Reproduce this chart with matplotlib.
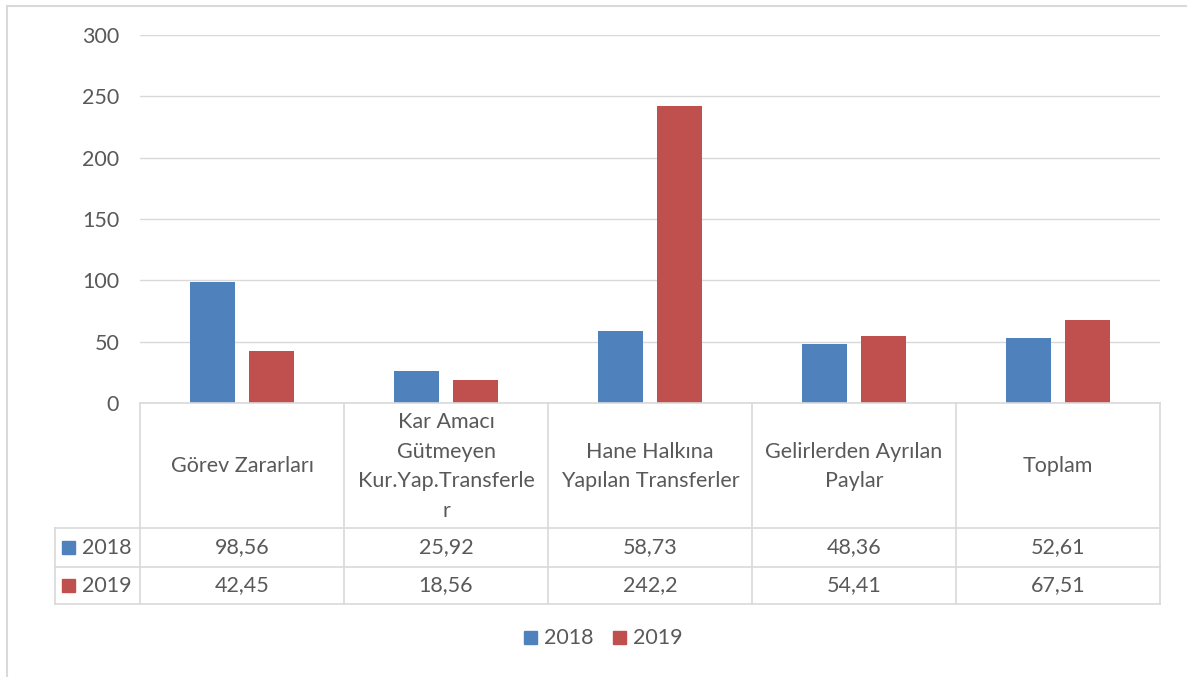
import matplotlib.pyplot as plt
import numpy as np
from matplotlib.lines import Line2D
from matplotlib.patches import Rectangle

categories = ["Görev Zararları",
              "Kar Amacı\nGütmeyen\nKur.Yap.Transferle\nr",
              "Hane Halkına\nYapılan Transferler",
              "Gelirlerden Ayrılan\nPaylar",
              "Toplam"]
series_names = ["2018", "2019"]
values_2018 = [98.56, 25.92, 58.73, 48.36, 52.61]
values_2019 = [42.45, 18.56, 242.2, 54.41, 67.51]
labels_2018 = ["98,56", "25,92", "58,73", "48,36", "52,61"]
labels_2019 = ["42,45", "18,56", "242,2", "54,41", "67,51"]
yticks = [0, 50, 100, 150, 200, 250, 300]

blue = "#4F81BD"
red = "#C0504D"
grid_c = "#D9D9D9"
text_c = "#595959"
fs = 15.5

plt.rcParams['font.family'] = ['Lato', 'DejaVu Sans']

W, H = 1187, 677
fig = plt.figure(figsize=(W / 100, H / 100), dpi=100)

def fx(px):
    return px / W

def fy(py):
    return 1 - py / H

# plot area in pixels
left, right, top, bottom = 140, 1160, 35, 403
ax = fig.add_axes([fx(left), fy(bottom), fx(right) - fx(left), fy(top) - fy(bottom)])

x = np.arange(len(categories))
bw = 0.22
ax.bar(x - 0.143, values_2018, bw, color=blue)
ax.bar(x + 0.143, values_2019, bw, color=red)

ax.set_xlim(-0.5, len(categories) - 0.5)
ax.set_ylim(0, 300)
ax.set_yticks(yticks)
ax.set_xticks([])
ax.yaxis.grid(True, color=grid_c, linewidth=1)
ax.set_axisbelow(True)
for s in ax.spines.values():
    s.set_visible(False)
ax.tick_params(axis='y', length=0, pad=15, labelsize=fs, labelcolor=text_c)

# data table below the plot
def hline(x0, x1, y):
    fig.add_artist(Line2D([fx(x0), fx(x1)], [fy(y), fy(y)], color=grid_c, lw=1.2))

def vline(xp, y0, y1):
    fig.add_artist(Line2D([fx(xp), fx(xp)], [fy(y0), fy(y1)], color=grid_c, lw=1.2))

head_bot, row1_bot, row2_bot = 528, 567, 604
lab_left = 55
col_w = (right - left) / len(categories)

hline(left, right, bottom)
hline(lab_left, right, head_bot)
hline(lab_left, right, row1_bot)
hline(lab_left, right, row2_bot)
for i in range(len(categories) + 1):
    vline(left + i * col_w, bottom, row2_bot)
vline(lab_left, head_bot, row2_bot)

for i, cat in enumerate(categories):
    cx = fx(left + (i + 0.5) * col_w)
    fig.text(cx, fy((bottom + head_bot) / 2 + 1), cat, ha='center', va='center',
             fontsize=fs, color=text_c, linespacing=1.6)
    fig.text(cx, fy((head_bot + row1_bot) / 2), labels_2018[i], ha='center',
             va='center', fontsize=fs, color=text_c)
    fig.text(cx, fy((row1_bot + row2_bot) / 2), labels_2019[i], ha='center',
             va='center', fontsize=fs, color=text_c)

# row keys
for yc, name, col in [((head_bot + row1_bot) / 2, series_names[0], blue),
                      ((row1_bot + row2_bot) / 2, series_names[1], red)]:
    fig.add_artist(Rectangle((fx(62), fy(yc + 6)), fx(13), 13 / H, color=col))
    fig.text(fx(82), fy(yc), name, ha='left', va='center', fontsize=fs, color=text_c)

# legend
leg_y = 638
for xs, name, col in [(524, series_names[0], blue), (613, series_names[1], red)]:
    fig.add_artist(Rectangle((fx(xs), fy(leg_y + 6)), fx(13), 13 / H, color=col))
    fig.text(fx(xs + 20), fy(leg_y), name, ha='left', va='center', fontsize=fs, color=text_c)

# chart border (left and top visible)
fig.add_artist(Line2D([fx(7), fx(7)], [fy(6), 0], color=grid_c, lw=1.5))
fig.add_artist(Line2D([fx(7), 1], [fy(6), fy(6)], color=grid_c, lw=1.5))

fig.savefig("out.png", dpi=100, facecolor="white")
